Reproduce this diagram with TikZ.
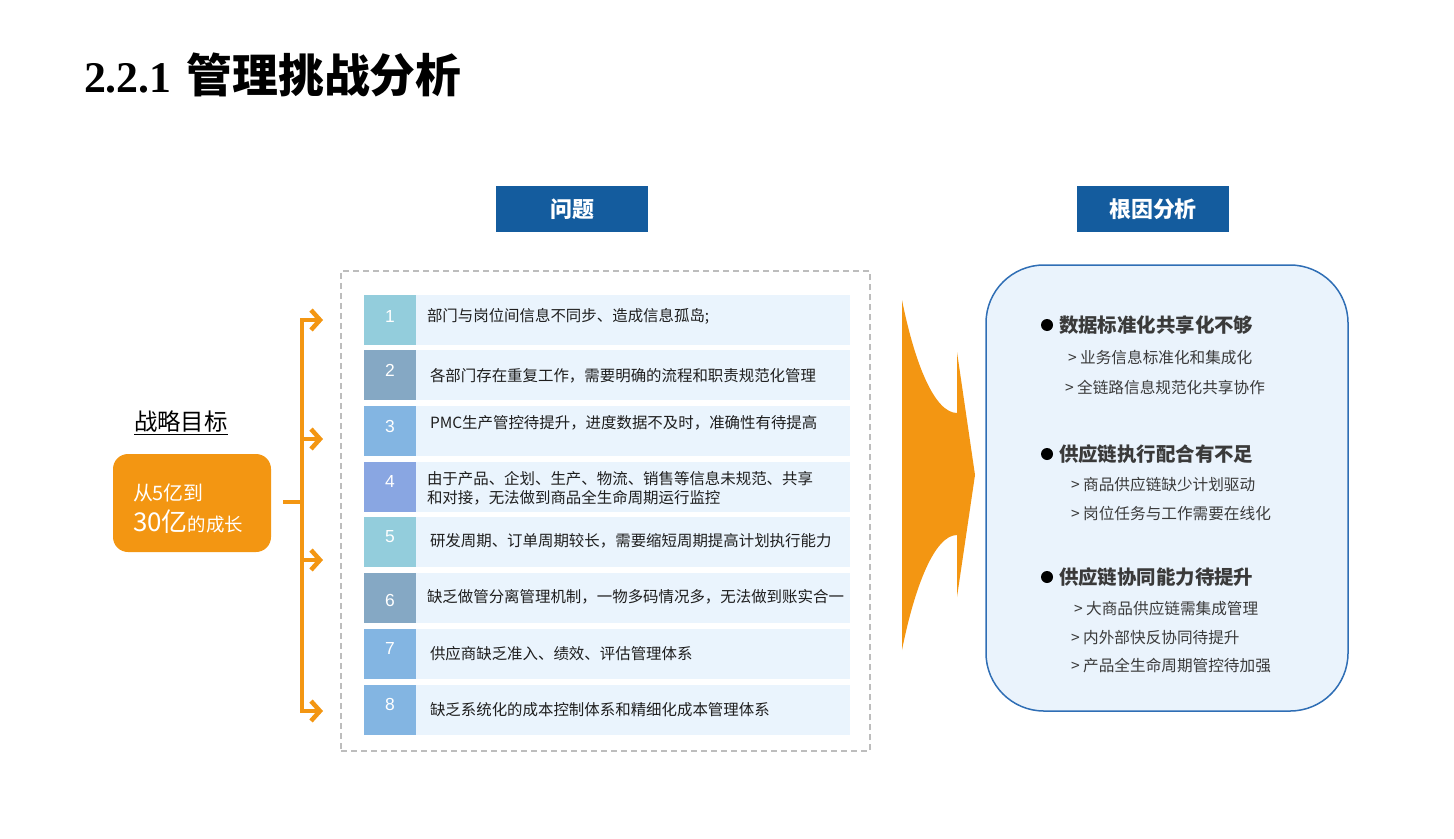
\documentclass[tikz,border=0pt]{standalone}
\usepackage{fontspec}
\setmainfont{Liberation Serif}
\newfontfamily\cjk{Noto Sans CJK SC}
\newfontfamily\lsans{Liberation Sans}
\usetikzlibrary{arrows.meta}
\definecolor{orng}{HTML}{F39612}
\definecolor{hblue}{HTML}{145C9E}
\definecolor{rowbg}{HTML}{EAF4FD}
\definecolor{cA}{HTML}{93CDDC}
\definecolor{cB}{HTML}{85A8C4}
\definecolor{cC}{HTML}{83B5E2}
\definecolor{cD}{HTML}{89A6E2}
\definecolor{rbord}{HTML}{2F6EB5}
\definecolor{rfill}{HTML}{EAF3FC}
\definecolor{dgray}{HTML}{BDBDBD}
\definecolor{txt}{HTML}{1E1E1E}
\definecolor{rtxt}{HTML}{3A3A3A}
\tikzset{
  every node/.style={font=\cjk, inner sep=0pt, outer sep=0pt},
  header/.style={fill=hblue, text=white, minimum width=152bp, minimum height=46bp, font=\cjk\bfseries\fontsize{22}{22}\selectfont},
  numcell/.style={fill=#1, minimum width=52bp, minimum height=50bp},
  numtxt/.style={text=white, font=\lsans\fontsize{17.5}{17.5}\selectfont},
  rowbox/.style={fill=rowbg, minimum width=434bp, minimum height=50bp},
  rowtxt/.style={anchor=west, text=txt, font=\cjk\fontsize{15.5}{19}\selectfont, align=left},
  rhead/.style={anchor=west, text=rtxt, font=\cjk\bfseries\fontsize{19.5}{20}\selectfont},
  rsub/.style={anchor=west, text=rtxt, font=\cjk\fontsize{15.7}{16}\selectfont},
  bulletdot/.style={circle, fill=black, minimum size=12bp},
  orline/.style={draw=orng, line width=4.5bp},
  orarrow/.style={orline, -{Straight Barb[length=9pt,width=20pt]}},
}
\begin{document}
\begin{tikzpicture}[x=1bp,y=-1bp]
\useasboundingbox (0,0) rectangle (1454,838);

% title
\node[anchor=base west, font=\fontsize{44}{44}\selectfont\bfseries] (title) at (84,92) {2.2.1\hspace{15bp}{\cjk\bfseries\fontsize{46}{46}\selectfont 管理挑战分析}};

% headers
\node[header] (h1) at (572,209) {问题};
\node[header] (h2) at (1153,209) {根因分析};

% dashed frame
\node[draw=dgray, dashed, dash pattern=on 6bp off 4bp, line width=1.3bp, minimum width=529bp, minimum height=480bp] (frame) at (605.5,511) {};

% rows
\foreach \i/\y/\c/\ny in {1/320/cA/316, 2/375/cB/370, 3/430.5/cC/426, 4/486.5/cD/481, 5/542/cA/537, 6/598/cB/600, 7/654/cC/648, 8/709.5/cC/704}{
  \node[numcell=\c] (n\i) at (390,\y) {};
  \node[numtxt] (nt\i) at (390,\ny) {\i};
  \node[rowbox] (r\i) at (633,\y) {};
}
\node[rowtxt] (t1) at (427,316) {部门与岗位间信息不同步、造成信息孤岛;};
\node[rowtxt] (t2) at (430,376) {各部门存在重复工作，需要明确的流程和职责规范化管理};
\node[rowtxt] (t3) at (430,423) {PMC生产管控待提升，进度数据不及时，准确性有待提高};
\node[rowtxt] (t4) at (427,488) {由于产品、企划、生产、物流、销售等信息未规范、共享\\和对接，无法做到商品全生命周期运行监控};
\node[rowtxt] (t5) at (430,541) {研发周期、订单周期较长，需要缩短周期提高计划执行能力};
\node[rowtxt] (t6) at (427,597) {缺乏做管分离管理机制，一物多码情况多，无法做到账实合一};
\node[rowtxt] (t7) at (430,654) {供应商缺乏准入、绩效、评估管理体系};
\node[rowtxt] (t8) at (430,710) {缺乏系统化的成本控制体系和精细化成本管理体系};

% strategic goal
\node[anchor=west, font=\cjk\fontsize{23.5}{23.5}\selectfont, text=black] (goaltitle) at (134,423) {\underline{战略目标}};
\node[fill=orng, rounded corners=15bp, minimum width=158bp, minimum height=98bp] (goal) at (192,503) {};
\node[anchor=west, text=white, font=\cjk\fontsize{20}{20}\selectfont] (g1) at (133,493) {从5亿到};
\node[anchor=west, text=white, font=\cjk\fontsize{18.5}{18.5}\selectfont] (g2) at (133,522) {{\fontsize{26}{26}\selectfont 30亿}的成长};

% connectors
\coordinate (stub) at (283,502);
\coordinate (j) at (302,502);
\coordinate (vt) at (302,318);
\coordinate (vb) at (302,713);
\coordinate (s1) at (300,320);
\coordinate (s2) at (300,439);
\coordinate (s3) at (300,560);
\coordinate (s4) at (300,711);
\coordinate (e1) at (323,320);
\coordinate (e2) at (323,439);
\coordinate (e3) at (323,560);
\coordinate (e4) at (323,711);
\draw[orline] (stub) -- (j);
\draw[orline] (vt) -- (vb);
\foreach \k in {1,2,3,4}{ \draw[orarrow] (s\k) -- (e\k); }

% big arrow
\fill[orng] (902,300) .. controls (915,365) and (935,413) .. (957,413) -- (957,352) -- (975,475) -- (957,597) -- (957,535) .. controls (935,535) and (915,585) .. (902,650) -- cycle;

% right box
\node[draw=rbord, fill=rfill, line width=1.5bp, rounded corners=58bp, minimum width=362bp, minimum height=446bp] (rb) at (1167,488) {};
\node[bulletdot] (b1) at (1047,325) {};
\node[rhead] (rh1) at (1059,325) {数据标准化共享化不够};
\node[rsub] (rs11) at (1068,358) {> 业务信息标准化和集成化};
\node[rsub] (rs12) at (1065,387) {> 全链路信息规范化共享协作};
\node[bulletdot] (b2) at (1047,454) {};
\node[rhead] (rh2) at (1059,454) {供应链执行配合有不足};
\node[rsub] (rs21) at (1071,485) {> 商品供应链缺少计划驱动};
\node[rsub] (rs22) at (1071,513) {> 岗位任务与工作需要在线化};
\node[bulletdot] (b3) at (1047,577) {};
\node[rhead] (rh3) at (1059,577) {供应链协同能力待提升};
\node[rsub] (rs31) at (1074,609) {> 大商品供应链需集成管理};
\node[rsub] (rs32) at (1071,638) {> 内外部快反协同待提升};
\node[rsub] (rs33) at (1071,666) {> 产品全生命周期管控待加强};
\end{tikzpicture}
\end{document}
